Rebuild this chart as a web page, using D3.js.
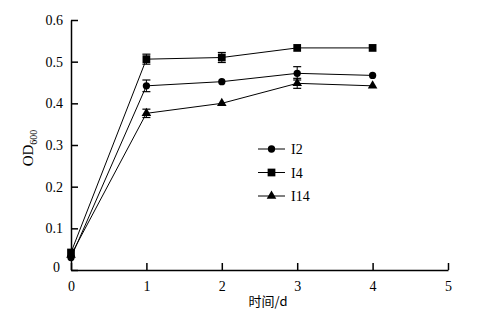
<!DOCTYPE html>
<html>
<head>
<meta charset="utf-8">
<script src="https://cdn.jsdelivr.net/npm/d3@7"></script>
<style>
  body { margin: 0; background: #fff; }
  text { font-family: "Liberation Serif", "Times New Roman", serif; fill: #000; }
</style>
</head>
<body>
<svg id="chart"></svg>
<script>
// days on x axis
const days = [0, 1, 2, 3, 4];

// OD600 values per strain
const i2Values  = [0.030, 0.442, 0.452, 0.472, 0.467];
const i4Values  = [0.042, 0.506, 0.510, 0.533, 0.533];
const i14Values = [0.036, 0.376, 0.400, 0.448, 0.442];

// error bar half widths (0 = none drawn)
const i2Err  = [0, 0.014, 0, 0.016, 0];
const i4Err  = [0, 0.012, 0.012, 0, 0];
const i14Err = [0, 0.010, 0, 0.012, 0];

const seriesNames = ["I2", "I4", "I14"];
const xTicks = [0, 1, 2, 3, 4, 5];
const yTicks = [0, 0.1, 0.2, 0.3, 0.4, 0.5, 0.6];

const width = 477, height = 322;

const svg = d3.select('#chart')
  .attr('width', width)
  .attr('height', height);

const x = d3.scaleLinear().domain([0, 5]).range([71, 448]);
const y = d3.scaleLinear().domain([0, 0.6]).range([270, 20]);

const series = [
  { name: seriesNames[0], values: i2Values, err: i2Err, shape: d3.symbolCircle, size: 42 },
  { name: seriesNames[1], values: i4Values, err: i4Err, shape: d3.symbolSquare, size: 60 },
  { name: seriesNames[2], values: i14Values, err: i14Err, shape: d3.symbolTriangle, size: 40 }
];

// axes
const xAxis = svg.append('g')
  .attr('transform', `translate(0,${y(0)})`)
  .call(d3.axisBottom(x).tickValues(xTicks).tickFormat(d3.format('d')).tickSizeInner(-7).tickSizeOuter(0).tickPadding(11));
const yAxis = svg.append('g')
  .attr('transform', `translate(${x(0)},0)`)
  .call(d3.axisLeft(y).tickValues(yTicks).tickFormat(d => d === 0 ? '0' : d3.format('.1f')(d)).tickSizeInner(-7).tickSizeOuter(0).tickPadding(8));

[xAxis, yAxis].forEach(ax => {
  ax.select('.domain').attr('stroke', '#000').attr('stroke-width', 1.5);
  ax.selectAll('.tick line').attr('stroke', '#000').attr('stroke-width', 1.5);
  ax.selectAll('.tick text')
    .style('font-family', '"Liberation Serif", serif')
    .style('font-size', '14px')
    .attr('fill', '#000');
});
// the zero label sits a little low and left
yAxis.selectAll('.tick').filter(d => d === 0).select('text').attr('dy', '0.1em').attr('x', -11);

// axis titles
const yTitle = svg.append('text')
  .attr('transform', `translate(33,148) rotate(-90)`)
  .attr('text-anchor', 'middle')
  .style('font-size', '15px');
yTitle.append('tspan').text('OD');
yTitle.append('tspan').attr('dy', 4).style('font-size', '10px').text('600');

svg.append('text')
  .attr('x', 268).attr('y', 306)
  .attr('text-anchor', 'middle')
  .style('font-family', '"Noto Sans CJK SC", sans-serif')
  .style('font-size', '13px')
  .text('时间/d');

const line = d3.line().x((d, i) => x(days[i])).y(d => y(d));
const sym = d3.symbol();

series.forEach(s => {
  const g = svg.append('g');
  g.append('path')
    .datum(s.values)
    .attr('d', line)
    .attr('fill', 'none')
    .attr('stroke', '#000')
    .attr('stroke-width', 1);

  // error bars
  s.values.forEach((v, i) => {
    if (!s.err[i]) return;
    const cx = x(days[i]);
    const y1 = y(v + s.err[i]), y2 = y(v - s.err[i]);
    g.append('line').attr('x1', cx).attr('x2', cx).attr('y1', y1).attr('y2', y2)
      .attr('stroke', '#000').attr('stroke-width', 1);
    [y1, y2].forEach(yy => g.append('line')
      .attr('x1', cx - 4).attr('x2', cx + 4).attr('y1', yy).attr('y2', yy)
      .attr('stroke', '#000').attr('stroke-width', 1.2));
  });

  g.selectAll('path.mark')
    .data(s.values)
    .enter()
    .append('path')
    .attr('class', 'mark')
    .attr('transform', (d, i) => `translate(${x(days[i])},${y(d)})`)
    .attr('d', sym.type(s.shape).size(s.size)())
    .attr('fill', '#000');
});

// legend
const legend = svg.append('g');
series.forEach((s, i) => {
  const ly = 149 + i * 23.5;
  legend.append('line').attr('x1', 258).attr('x2', 285).attr('y1', ly).attr('y2', ly)
    .attr('stroke', '#000').attr('stroke-width', 1);
  legend.append('path')
    .attr('transform', `translate(271.5,${ly})`)
    .attr('d', d3.symbol().type(s.shape).size(s.size)())
    .attr('fill', '#000');
  legend.append('text')
    .attr('x', 291).attr('y', ly + 5)
    .style('font-size', '14px')
    .text(s.name);
});
</script>
</body>
</html>
